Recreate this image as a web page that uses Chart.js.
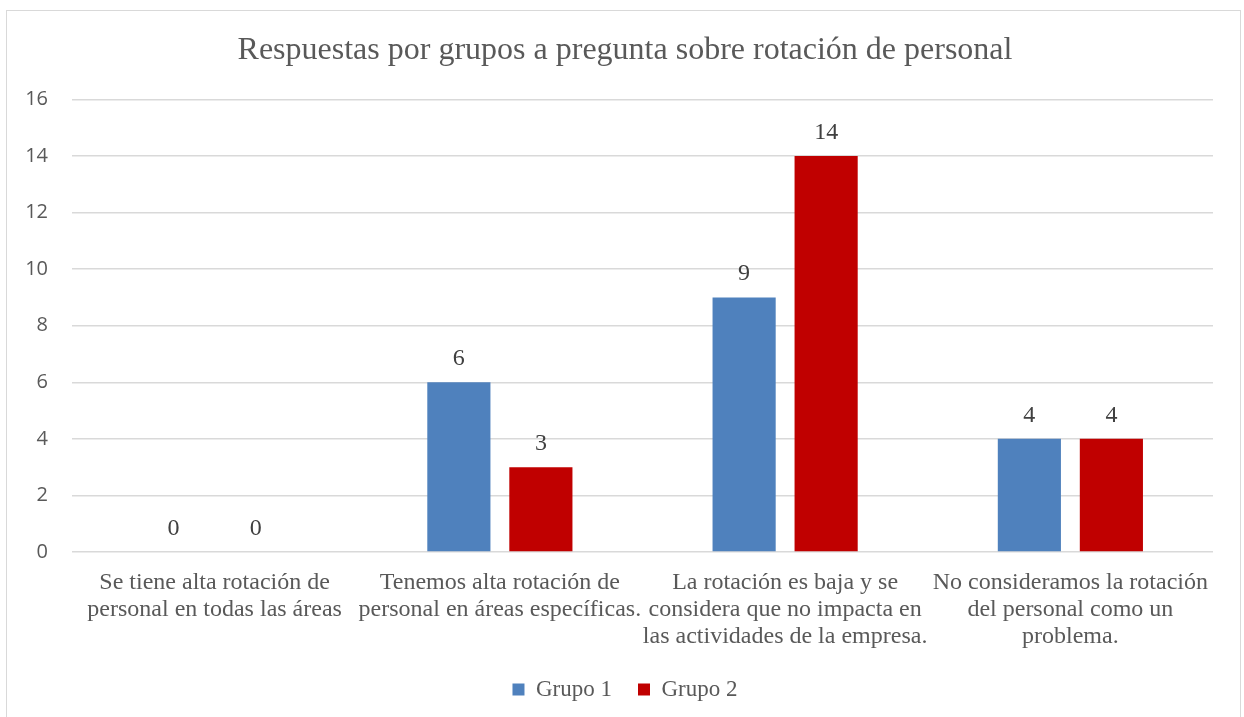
<!DOCTYPE html>
<html>
<head>
<meta charset="utf-8">
<script src="https://cdn.jsdelivr.net/npm/chart.js@4/dist/chart.umd.min.js"></script>
<style>
  html, body { margin: 0; padding: 0; background: #fff; }
  #wrap { position: relative; width: 1244px; height: 717px; overflow: hidden; }
  #frame { position: absolute; left: 6px; top: 10px; width: 1233px; height: 730px; border: 1px solid #d9d9d9; pointer-events: none; }
</style>
</head>
<body>
<div id="wrap">
  <canvas id="chart" width="1244" height="717"></canvas>
  <div id="frame"></div>
</div>
<script>
// categorías (ya partidas en líneas como en el original)
const CATEGORIES = [
  ['Se tiene alta rotación de', 'personal en todas las áreas'],
  ['Tenemos alta rotación de', 'personal en áreas específicas.'],
  ['La rotación es baja y se', 'considera que no impacta en', 'las actividades de la empresa.'],
  ['No consideramos la rotación', 'del personal como un', 'problema.']
];
const GRUPO_1 = [0, 6, 9, 4];
const GRUPO_2 = [0, 3, 14, 4];
const Y_MIN = 0;
const Y_MAX = 16;
const Y_STEP = 2;

const SERIF = '"Liberation Serif", "DejaVu Serif", serif';
const TEXT_COLOR = '#595959';

// etiquetas de valor encima de cada barra
const valueLabels = {
  id: 'valueLabels',
  afterDatasetsDraw(chart) {
    const ctx = chart.ctx;
    ctx.save();
    ctx.font = '24px ' + SERIF;
    ctx.fillStyle = '#404040';
    ctx.textAlign = 'center';
    ctx.textBaseline = 'alphabetic';
    chart.data.datasets.forEach((ds, i) => {
      chart.getDatasetMeta(i).data.forEach((bar, j) => {
        ctx.fillText(String(ds.data[j]), bar.x, bar.y - 17);
      });
    });
    ctx.restore();
  }
};

// título y leyenda centrados como en el original (un poco a la derecha del centro del lienzo)
const shiftBoxes = {
  id: 'shiftBoxes',
  afterLayout(chart) {
    [chart.titleBlock, chart.legend].forEach((box) => {
      if (!box) return;
      box.left = 37;
      box.width = box.right - box.left;
    });
  }
};

new Chart(document.getElementById('chart'), {
  type: 'bar',
  data: {
    labels: CATEGORIES,
    datasets: [
      { label: 'Grupo 1', data: GRUPO_1, backgroundColor: '#4f81bd' },
      { label: 'Grupo 2', data: GRUPO_2, backgroundColor: '#c00000' }
    ]
  },
  options: {
    responsive: false,
    animation: false,
    categoryPercentage: 0.575,
    barPercentage: 0.77,
    layout: { padding: { top: 10, right: 31, bottom: 6, left: 0 } },
    plugins: {
      title: {
        display: true,
        text: 'Respuestas por grupos a pregunta sobre rotación de personal',
        color: TEXT_COLOR,
        font: { family: SERIF, size: 32, weight: 'normal' },
        padding: { top: 21, bottom: 30 }
      },
      legend: {
        position: 'bottom',
        labels: {
          color: TEXT_COLOR,
          font: { family: SERIF, size: 23 },
          boxWidth: 12,
          boxHeight: 12,
          padding: 26
        }
      },
      tooltip: { enabled: false }
    },
    scales: {
      x: {
        grid: { display: false },
        border: { display: false },
        ticks: {
          color: TEXT_COLOR,
          font: { family: SERIF, size: 24, lineHeight: 1.125 },
          padding: 9,
          maxRotation: 0,
          autoSkip: false
        },
        afterFit(scale) { scale.height = 100; }
      },
      y: {
        min: Y_MIN,
        max: Y_MAX,
        grid: { color: '#d9d9d9', lineWidth: 1.5, drawTicks: false },
        border: { display: false },
        ticks: {
          stepSize: Y_STEP,
          color: TEXT_COLOR,
          font: { family: '"Open Sans", sans-serif', size: 20 },
          padding: 24
        },
        afterFit(scale) { scale.width = 72; }
      }
    }
  },
  plugins: [valueLabels, shiftBoxes]
});
</script>
</body>
</html>
